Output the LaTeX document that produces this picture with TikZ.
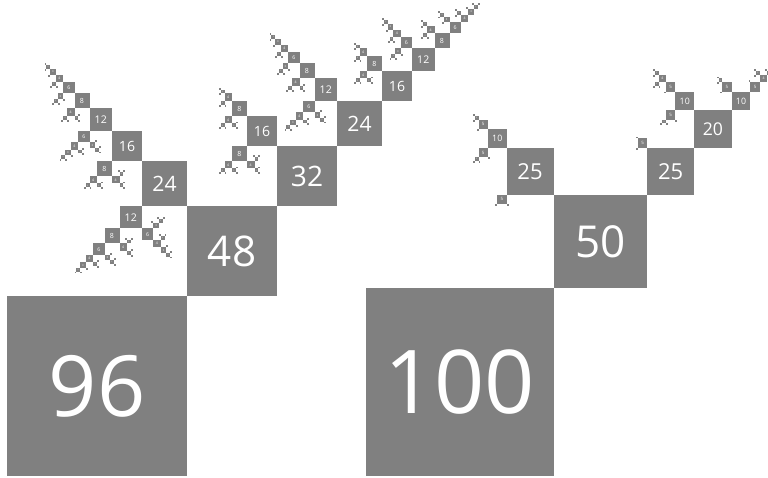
\documentclass[tikz,border=0pt]{standalone}
\usepackage{fontspec}
\setmainfont{Open Sans}
\definecolor{sqgray}{RGB}{128,128,128}
\tikzset{
  sqfill/.style={fill=sqgray},
  sqlabel/.style={text=white, inner sep=0pt, outer sep=0pt}
}
\newcount\tmpk
\newcount\sqcount
% largest divisor of #2 that is smaller than #1 -> \result (0 if none)
\def\findnext#1#2{%
  \tmpk=#1\relax
  \def\result{0}%
  \fnstep{#2}}
\def\fnstep#1{%
  \let\fnnext\relax
  \advance\tmpk by -1\relax
  \ifnum\tmpk>0
    \ifnum\numexpr(#1/\tmpk)*\tmpk\relax=#1\relax
      \edef\result{\the\tmpk}%
    \else
      \def\fnnext{\fnstep{#1}}%
    \fi
  \fi
  \fnnext}
% \sq{d}{N}{Px}{Py}{a}{b}
\def\sq#1#2#3#4#5#6{%
  \begingroup
  \pgfmathsetmacro\sqside{#1*\unitpx}%
  \pgfmathsetmacro\Qx{#3+(#5)*\sqside}%
  \pgfmathsetmacro\Qy{#4+(#6)*\sqside}%
  \pgfmathsetmacro\Cx{#3+(#5)*\sqside/2}%
  \pgfmathsetmacro\Cy{#4+(#6)*\sqside/2}%
  \pgfmathsetmacro\Lx{#3+((#5)-(#6))*\sqside/2}%
  \pgfmathsetmacro\Ly{#4+((#6)+(#5))*\sqside/2}%
  \pgfmathsetmacro\fs{0.88*#1}%
  \global\advance\sqcount by 1
  \fill[sqfill] (#3,#4) rectangle (\Qx,\Qy);
  \node[sqlabel, font=\fontsize{\fs}{\fs}\selectfont] (sq\the\sqcount) at (\Cx,\Cy) {#1};
  \findnext{#1}{#2}%
  \edef\trd{\result}%
  \ifnum\trd>0
    \edef\temp{\noexpand\sq{\trd}{#2}{\Qx}{\Qy}{#5}{#6}}\temp
  \fi
  \ifnum#1<#2
    \ifnum#1>1
      \findnext{#1}{#1}%
      \edef\tld{\result}%
      \edef\na{\the\numexpr0-(#6)\relax}%
      \edef\temp{\noexpand\sq{\tld}{#1}{\Lx}{\Ly}{\na}{#5}}\temp
    \fi
  \fi
  \endgroup}
\begin{document}
\begin{tikzpicture}[x=1pt,y=1pt]
\useasboundingbox (0,0) rectangle (768,477);
\clip (0,0) rectangle (768,477);
\def\unitpx{1.875}
\sq{96}{96}{7}{1}{1}{1}
\sq{100}{100}{366}{1}{1}{1}
\end{tikzpicture}
\end{document}
